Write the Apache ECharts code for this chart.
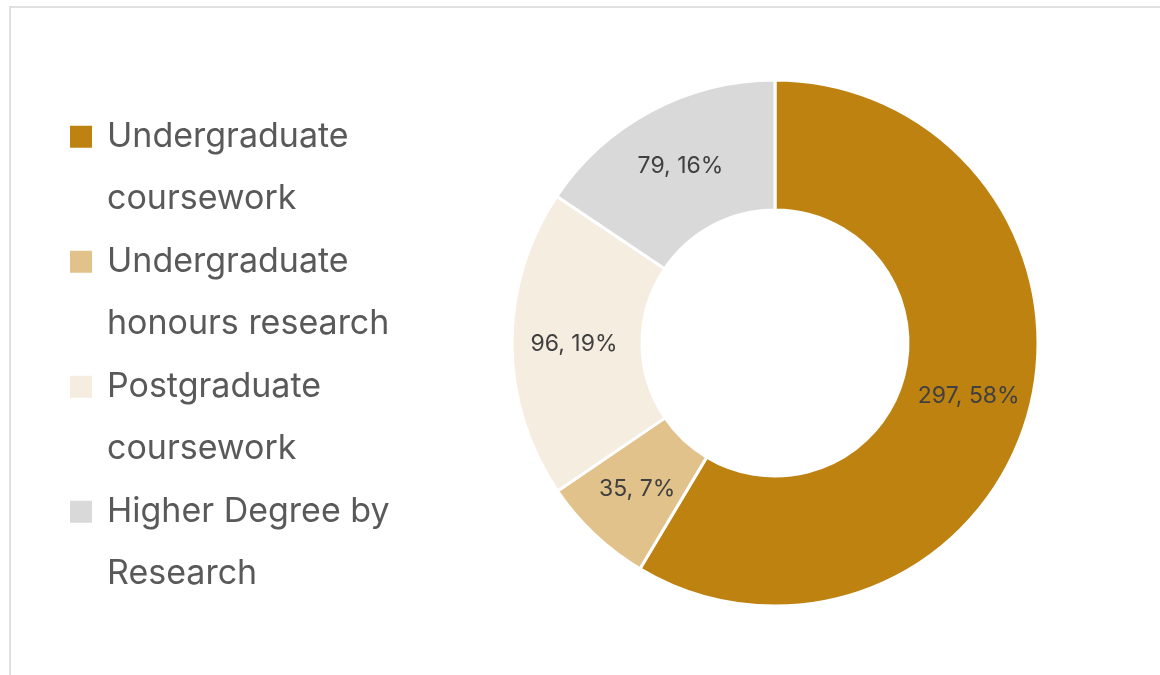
<!DOCTYPE html>
<html>
<head>
<meta charset="utf-8">
<script src="https://cdn.jsdelivr.net/npm/echarts@6/dist/echarts.min.js"></script>
<style>
html, body { margin: 0; padding: 0; background: #fff; overflow: hidden; }
#frame {
    position: absolute; left: 9px; top: 6px;
    width: 1200px; height: 720px;
    border: 2px solid #e0e0e0;
}
#main { position: absolute; left: 0; top: 0; width: 1160px; height: 675px; }
</style>
</head>
<body>
<div id="frame"></div>
<div id="main"></div>
<script>
// study levels
const categories = [
    "Undergraduate\ncoursework",
    "Undergraduate\nhonours research",
    "Postgraduate\ncoursework",
    "Higher Degree by\nResearch"
];
const values = [297, 35, 96, 79];
const colors = ["#BE8211", "#E0C28A", "#F5EDDF", "#D9D9D9"];

const chart = echarts.init(document.getElementById("main"));

chart.setOption({
    animation: false,
    color: colors,
    legend: {
        orient: "vertical",
        left: 63,
        top: 38,
        padding: 5,
        icon: "rect",
        itemWidth: 24,
        itemHeight: 24,
        itemGap: -62.5,
        selectedMode: false,
        // blank first line so the icon sits beside the first text line
        formatter: name => "\u00a0\n" + name,
        textStyle: {
            fontFamily: "Inter",
            fontSize: 34,
            color: "#595959",
            lineHeight: 62.5,
            padding: [0, 0, 0, 9]
        },
        data: categories
    },
    series: [
        {
            type: "pie",
            center: [775, 343],
            radius: [133, 263],
            startAngle: 90,
            percentPrecision: 0,
            itemStyle: {
                borderColor: "#fff",
                borderWidth: 3
            },
            label: {
                position: "inside",
                formatter: "{c}, {d}%",
                fontFamily: "Inter",
                fontSize: 23,
                color: "#404040"
            },
            labelLine: { show: false },
            data: categories.map((name, i) => ({ name: name, value: values[i] }))
        }
    ]
});
</script>
</body>
</html>
